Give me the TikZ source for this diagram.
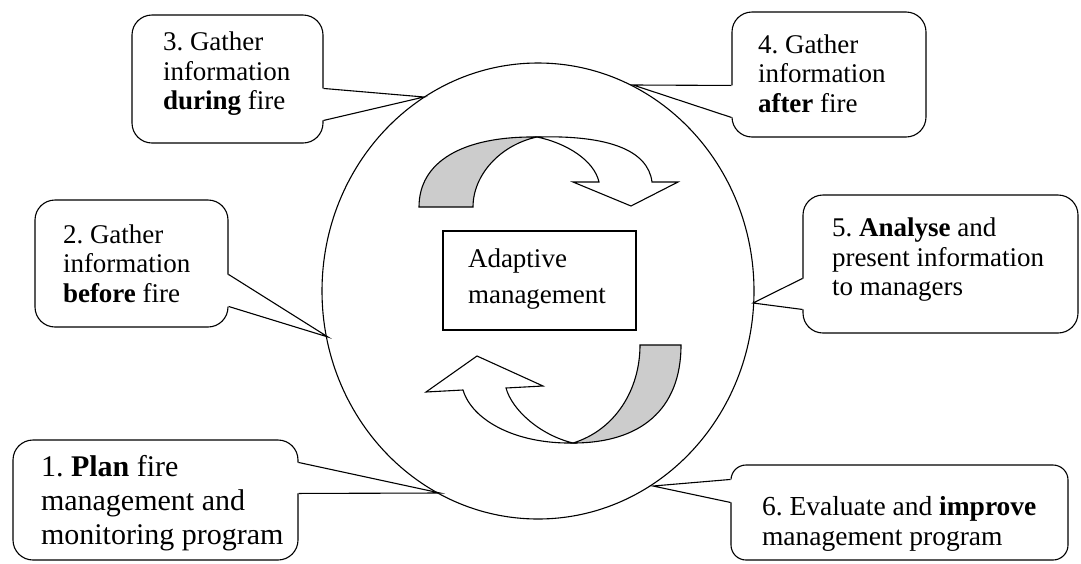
\documentclass[tikz,border=0pt]{standalone}
\usepackage{fontspec}
\setmainfont{Liberation Serif}
\usetikzlibrary{shapes.geometric}
\usetikzlibrary{calc}
\definecolor{bandgrau}{RGB}{204,204,204}
\frenchspacing

\begin{document}
\begin{tikzpicture}[x=1pt,y=-1pt,line width=1.1pt,
	callout/.style={draw,fill=white,rounded corners=20pt,inner sep=0pt},
	calltext/.style={anchor=west,align=left,inner sep=0pt,font=\fontsize{27}{29.5}\selectfont},
	band/.style={draw,fill=white},
	]
	\useasboundingbox (0,0) rectangle (1081,563);
	% big cycle with the box in the middle
	\node[draw,ellipse,minimum width=432pt,minimum height=456pt,inner sep=0pt] (ring) at (538,291) {};
	\node[draw,fill=white,minimum width=193pt,minimum height=99pt] (adapt) at (539.5,280.5) {};
	\node[calltext,font=\fontsize{27}{36}\selectfont] (adapttxt) at ($(adapt.west)+(25,-1)$) {Adaptive\\management};
	% upper arrow
	\draw[fill=bandgrau] (419,207) .. controls (419,162) and (462,136) .. (537,137)
		.. controls (500,145) and (473,175) .. (473,207) -- cycle;
	\draw[band] (537,137) .. controls (608,135) and (648,150) .. (652,182) -- (678,182) -- (631,206)
		-- (573,182) -- (599,182) .. controls (594,160) and (566,143) .. (537,137) -- cycle;
	% lower arrow
	\draw[fill=bandgrau] (640,345) -- (681,345) .. controls (681,410) and (640,443) .. (573,443)
		.. controls (615,430) and (640,390) .. (640,345) -- cycle;
	\draw[band] (573,443) .. controls (515,444) and (472,420) .. (463,390) -- (426,392) -- (477,356)
		-- (543,386) -- (506,388) .. controls (512,410) and (540,435) .. (573,443) -- cycle;
	% the six steps
	\node[callout,minimum width=285pt,minimum height=120pt] (c1) at (155.5,500) {};
	\node[calltext,font=\fontsize{30}{34}\selectfont] (c1txt) at ($(c1.west)+(28,3)$)
		{1. \textbf{Plan} fire\\management and\\monitoring program};
	\node[callout,minimum width=193pt,minimum height=127pt] (c2) at (131.5,263.5) {};
	\node[calltext] (c2txt) at ($(c2.west)+(28,0)$) {2. Gather\\information\\\textbf{before} fire};
	\node[callout,minimum width=191pt,minimum height=128pt] (c3) at (227.5,79) {};
	\node[calltext] (c3txt) at ($(c3.west)+(31,-5)$) {3. Gather\\information\\\textbf{during} fire};
	\node[callout,minimum width=194pt,minimum height=125pt] (c4) at (829,74.5) {};
	\node[calltext] (c4txt) at ($(c4.west)+(26,-1)$) {4. Gather\\information\\\textbf{after} fire};
	\node[callout,minimum width=275pt,minimum height=138pt] (c5) at (940.5,264) {};
	\node[calltext] (c5txt) at ($(c5.west)+(29,-4)$) {5. \textbf{Analyse} and\\present information\\to managers};
	\node[callout,rounded corners=15pt,minimum width=337pt,minimum height=95pt] (c6) at (899.5,512.5) {};
	\node[calltext,font=\fontsize{27.5}{30}\selectfont] (c6txt) at ($(c6.west)+(31,11)$)
		{6. Evaluate and \textbf{improve}\\management program};
	% pointer tips on the cycle
	\coordinate (t1) at (440,493);
	\coordinate (t2) at (328,337);
	\coordinate (t3) at (424,97);
	\coordinate (t4) at (633,85);
	\coordinate (t5) at (753,303);
	\coordinate (t6) at (653,486);
	% pointers
	\fill[white] ($(c1.north east)+(-1.5,23)$) -- (t1) -- ($(c1.north east)+(-1.5,54)$) -- cycle;
	\draw ($(c1.north east)+(0,23)$) -- (t1) -- ($(c1.north east)+(0,54)$);
	\fill[white] ($(c2.north east)+(-1.5,75)$) -- (t2) -- ($(c2.north east)+(-1.5,107)$) -- cycle;
	\draw ($(c2.north east)+(0,75)$) -- (t2) -- ($(c2.north east)+(0,107)$);
	\fill[white] ($(c3.north east)+(-1.5,74)$) -- (t3) -- ($(c3.north east)+(-1.5,106)$) -- cycle;
	\draw ($(c3.north east)+(0,74)$) -- (t3) -- ($(c3.north east)+(0,106)$);
	\fill[white] ($(c4.north west)+(1.5,74)$) -- (t4) -- ($(c4.north west)+(1.5,106)$) -- cycle;
	\draw ($(c4.north west)+(0,74)$) -- (t4) -- ($(c4.north west)+(0,106)$);
	\fill[white] ($(c5.north west)+(1.5,84)$) -- (t5) -- ($(c5.north west)+(1.5,115)$) -- cycle;
	\draw ($(c5.north west)+(0,84)$) -- (t5) -- ($(c5.north west)+(0,115)$);
	\fill[white] ($(c6.north west)+(1.5,15)$) -- (t6) -- ($(c6.north west)+(1.5,38)$) -- cycle;
	\draw ($(c6.north west)+(0,15)$) -- (t6) -- ($(c6.north west)+(0,38)$);
\end{tikzpicture}
\end{document}
